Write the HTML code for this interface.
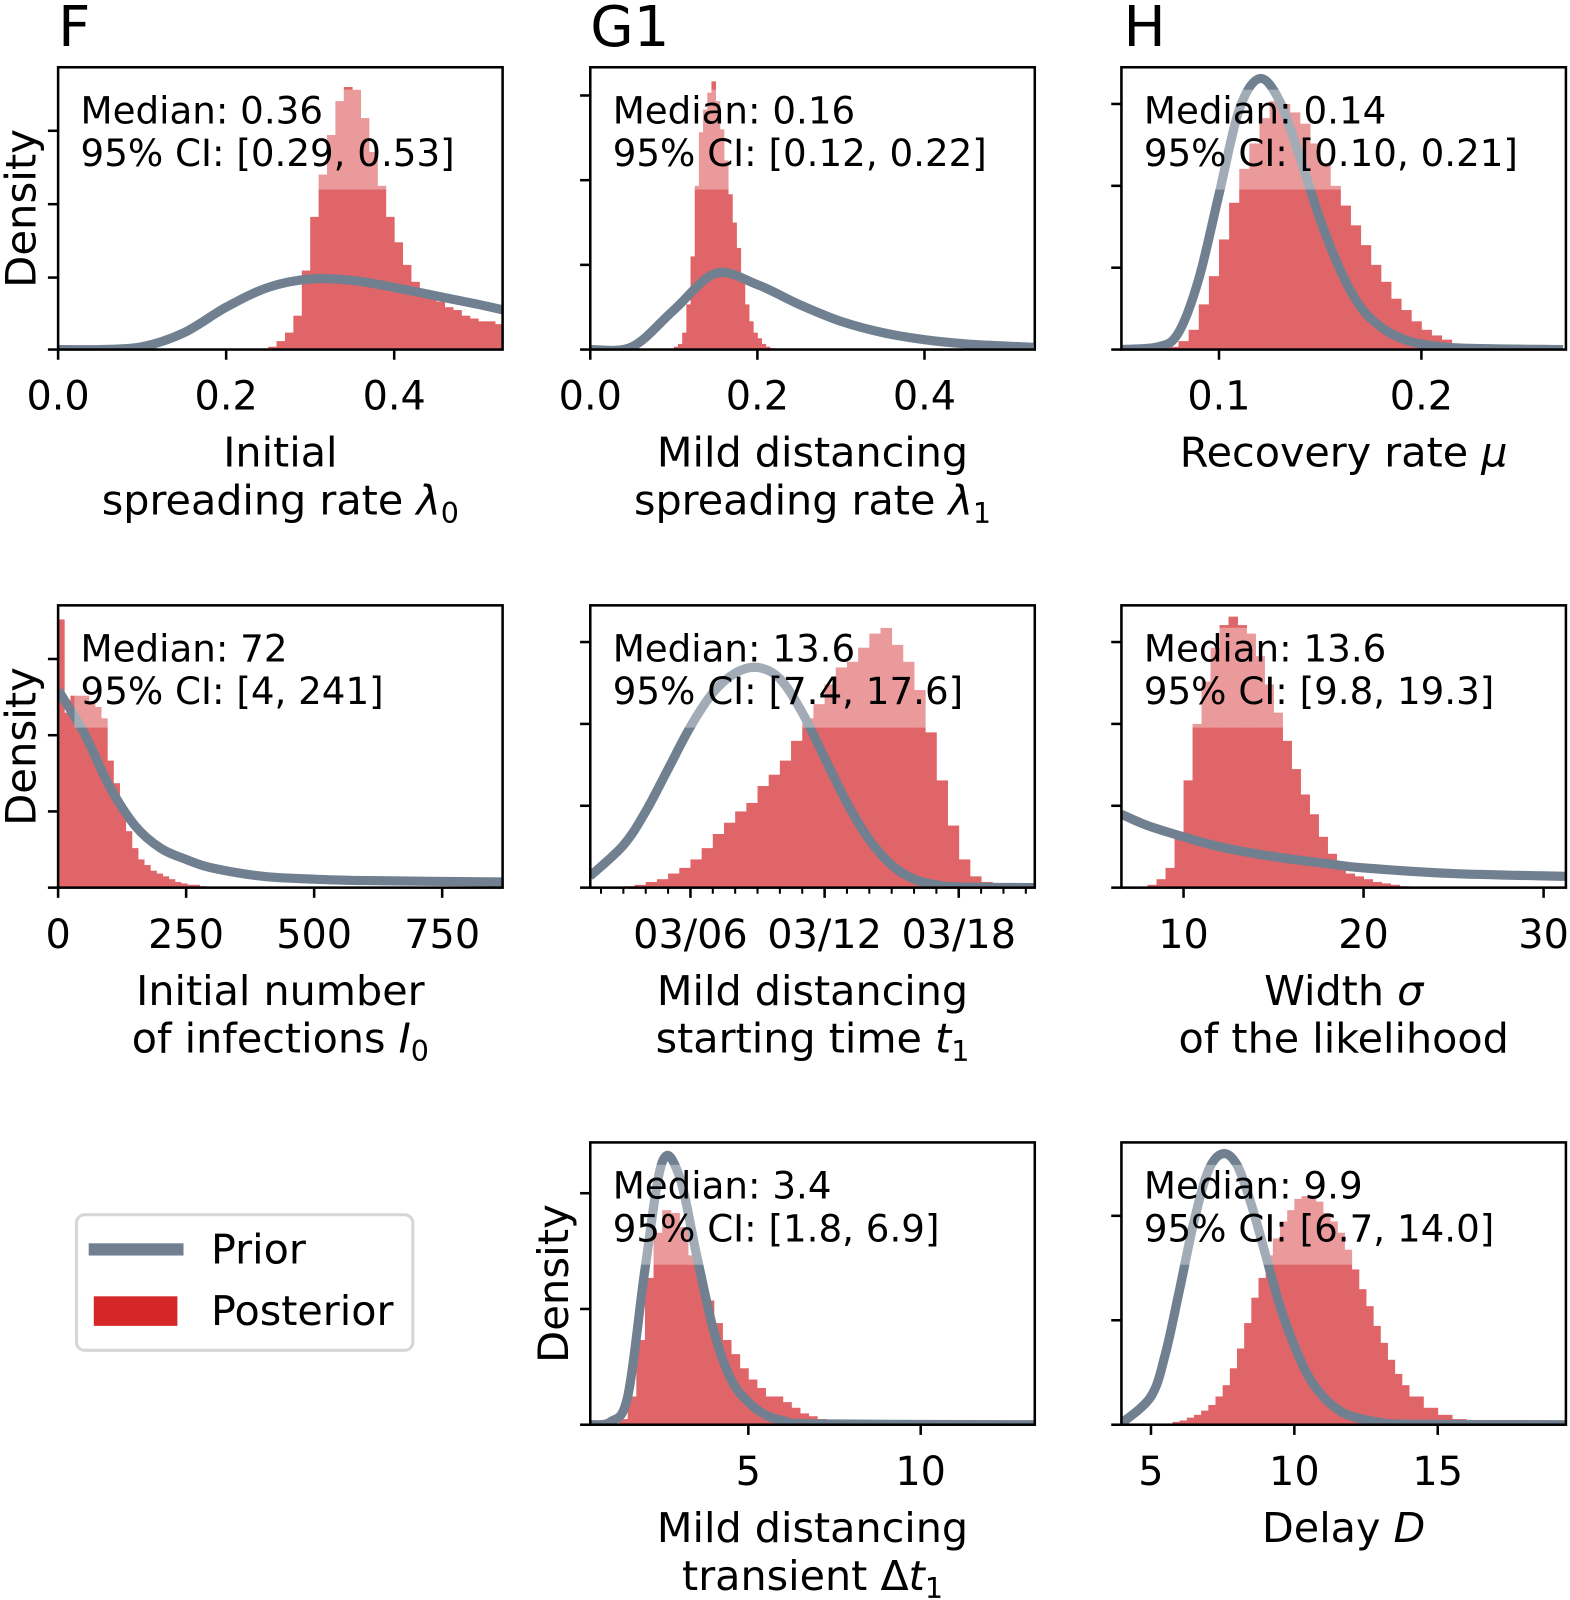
<!DOCTYPE html>
<html><head><meta charset="utf-8"><style>
html,body{margin:0;padding:0;background:#fff}
svg{display:block}
text{font-family:"DejaVu Sans","Liberation Sans",sans-serif;fill:#000}
</style></head><body>
<svg id="fig" width="1570" height="1600" viewBox="0 0 1540 1570" preserveAspectRatio="none" xmlns="http://www.w3.org/2000/svg"></svg>
<script>
// ---- data ----
const fBins=[0.25,0.26,0.27,0.28,0.29,0.30,0.31,0.32,0.33,0.34,0.35,0.36,0.37,0.38,0.39,0.40,0.41,0.42,0.43,0.44,0.45,0.46,0.47,0.48,0.49,0.50,0.51,0.52];
const fPost=[0.01,0.03,0.06,0.12,0.28,0.47,0.62,0.76,0.88,0.93,0.92,0.82,0.70,0.58,0.47,0.38,0.30,0.24,0.20,0.18,0.17,0.15,0.14,0.12,0.11,0.10,0.10,0.09];
const fPriorX=[0,0.05,0.1,0.15,0.2,0.25,0.3,0.35,0.4,0.45,0.5,0.53];
const fPriorY=[0,0,0.01,0.06,0.15,0.22,0.25,0.245,0.22,0.19,0.16,0.14];

const gBins=[0.10,0.105,0.11,0.115,0.12,0.125,0.13,0.135,0.14,0.145,0.15,0.155,0.16,0.165,0.17,0.175,0.18,0.185,0.19,0.195,0.2,0.205,0.21,0.215];
const gPost=[0.01,0.02,0.06,0.16,0.33,0.58,0.77,0.85,0.91,0.95,0.88,0.78,0.67,0.55,0.45,0.36,0.26,0.16,0.1,0.06,0.04,0.02,0.01,0.005];
const gPriorX=[0,0.05,0.1,0.15,0.2,0.25,0.3,0.35,0.4,0.45,0.5,0.53];
const gPriorY=[0,0.01,0.14,0.27,0.23,0.16,0.10,0.06,0.035,0.02,0.012,0.008];

const hBins=[0.075,0.08,0.085,0.09,0.095,0.1,0.105,0.11,0.115,0.12,0.125,0.13,0.135,0.14,0.145,0.15,0.155,0.16,0.165,0.17,0.175,0.18,0.185,0.19,0.195,0.2,0.205,0.21,0.215,0.22,0.225];
const hPost=[0.01,0.03,0.07,0.16,0.26,0.39,0.52,0.64,0.73,0.82,0.88,0.87,0.84,0.80,0.73,0.66,0.58,0.51,0.44,0.37,0.30,0.24,0.18,0.14,0.10,0.07,0.05,0.035,0.02,0.01,0.005];
const hPriorX=[0.05,0.07,0.08,0.09,0.1,0.11,0.12,0.13,0.14,0.15,0.16,0.17,0.18,0.19,0.2,0.22,0.27];
const hPriorY=[0,0.01,0.06,0.25,0.55,0.85,0.96,0.88,0.68,0.46,0.28,0.15,0.08,0.04,0.02,0.005,0];

const iBins=[0,12,24,36,48,60,72,84,96,108,120,132,144,156,168,180,192,204,216,228,240,252,264,276];
const iPost=[0.95,0.62,0.68,0.68,0.68,0.66,0.64,0.60,0.45,0.37,0.28,0.2,0.14,0.1,0.08,0.06,0.05,0.04,0.03,0.02,0.015,0.01,0.01,0.005];
const iPriorX=[0,50,100,150,200,250,300,400,500,600,868];
const iPriorY=[0.7,0.55,0.36,0.22,0.14,0.1,0.07,0.04,0.03,0.025,0.02];

const tBins=[3,3.5,4,4.5,5,5.5,6,6.5,7,7.5,8,8.5,9,9.5,10,10.5,11,11.5,12,12.5,13,13.5,14,14.5,15,15.5,16,16.5,17,17.5,18,18.5,19,19.5];
const tPost=[0.005,0.01,0.02,0.03,0.05,0.07,0.10,0.14,0.19,0.23,0.27,0.30,0.36,0.40,0.45,0.52,0.60,0.65,0.72,0.78,0.80,0.85,0.90,0.92,0.86,0.80,0.70,0.55,0.38,0.22,0.1,0.04,0.02,0.005];
const tPriorX=[1.5,3,4,5,6,7,8,9,10,11,12,13,14,15,16,17,18,21.4];
const tPriorY=[0.04,0.15,0.27,0.42,0.57,0.69,0.76,0.78,0.74,0.62,0.46,0.3,0.17,0.08,0.03,0.01,0.003,0];
const tTickLabels=["03/06","03/12","03/18"];

const sBins=[8,8.5,9,9.5,10,10.5,11,11.5,12,12.5,13,13.5,14,14.5,15,15.5,16,16.5,17,17.5,18,18.5,19,19.5,20,20.5,21,21.5,22];
const sPost=[0.01,0.03,0.07,0.18,0.38,0.58,0.73,0.85,0.93,0.96,0.93,0.9,0.82,0.72,0.62,0.52,0.42,0.33,0.26,0.18,0.12,0.08,0.05,0.04,0.03,0.02,0.015,0.01,0.005];
const sPriorX=[6.55,8,10,12,15,18,20,25,31.24];
const sPriorY=[0.26,0.22,0.18,0.145,0.11,0.085,0.07,0.05,0.04];

const dtBins=[1,1.25,1.5,1.75,2,2.25,2.5,2.75,3,3.25,3.5,3.75,4,4.25,4.5,4.75,5,5.25,5.5,5.75,6,6.25,6.5,6.75,7,7.25,7.5,7.75];
const dtPost=[0.005,0.02,0.1,0.3,0.52,0.68,0.76,0.75,0.7,0.6,0.52,0.44,0.36,0.3,0.25,0.2,0.16,0.13,0.1,0.1,0.08,0.06,0.04,0.03,0.02,0.012,0.008,0.005];
const dtPriorX=[0.41,1,1.5,2,2.5,3,3.5,4,4.5,5,5.5,6,7,13.3];
const dtPriorY=[0,0.01,0.1,0.55,0.93,0.88,0.6,0.33,0.16,0.08,0.035,0.015,0.003,0];

const dBins=[5.75,6,6.25,6.5,6.75,7,7.25,7.5,7.75,8,8.25,8.5,8.75,9,9.25,9.5,9.75,10,10.25,10.5,10.75,11,11.25,11.5,11.75,12,12.25,12.5,12.75,13,13.25,13.5,13.75,14,14.5,15,15.5,16];
const dPost=[0.01,0.015,0.025,0.035,0.05,0.07,0.1,0.14,0.2,0.27,0.36,0.45,0.52,0.6,0.66,0.72,0.76,0.8,0.81,0.8,0.79,0.75,0.72,0.68,0.62,0.55,0.48,0.42,0.35,0.29,0.23,0.18,0.14,0.1,0.06,0.035,0.02,0.01];
const dPriorX=[3.97,5,5.5,6,6.5,7,7.5,8,8.5,9,9.5,10,10.5,11,11.5,12,13,14,19.5];
const dPriorY=[0.005,0.1,0.25,0.48,0.72,0.9,0.96,0.92,0.78,0.6,0.42,0.28,0.17,0.1,0.055,0.03,0.008,0.002,0];

// ---- drawing ----
const NS="http://www.w3.org/2000/svg";
const svg=document.getElementById('fig');
function mk(tag,attrs,parent){const e=document.createElementNS(NS,tag);for(const k in attrs)e.setAttribute(k,attrs[k]);(parent||svg).appendChild(e);return e;}
const H=277;
function panel(o){
  const g=mk('g',{});
  
  
  const x0=o.x, x1=o.x+436, yb=o.y+H;
  const sx=v=>x0+(v-o.dom[0])/(o.dom[1]-o.dom[0])*436;
  const sy=v=>yb-v*H;
  const clip='c'+o.name;
  const cp=mk('clipPath',{id:clip},g); mk('rect',{x:x0,y:o.y,width:436,height:H},cp);
  const inner=mk('g',{'clip-path':'url(#'+clip+')'},g);
  for(let i=0;i<o.bins.length;i++){
    const w=(i<o.bins.length-1)?(o.bins[i+1]-o.bins[i]):o.bw;
    const a=sx(o.bins[i]), b=sx(o.bins[i]+Math.min(w,o.bw*2));
    const r=mk('rect',{x:a,y:sy(o.post[i]),width:Math.max(b-a+0.4,0.5),height:o.post[i]*H,fill:'#e06568'},inner);
    
    
  }
  const pts=o.px.map((v,i)=>[sx(v),sy(o.py[i])]);
  let d='M'+pts[0][0]+','+pts[0][1];
  for(let i=0;i<pts.length-1;i++){
    const p0=pts[Math.max(i-1,0)],p1=pts[i],p2=pts[i+1],p3=pts[Math.min(i+2,pts.length-1)];
    const c1=[p1[0]+(p2[0]-p0[0])/6,p1[1]+(p2[1]-p0[1])/6],c2=[p2[0]-(p3[0]-p1[0])/6,p2[1]-(p3[1]-p1[1])/6];
    d+=' C'+c1+' '+c2+' '+p2;
  }
  const pl=mk('path',{d:d,fill:'none',stroke:'#708090','stroke-width':9,'stroke-linejoin':'round'},inner);
  
  
  mk('rect',{x:x0+16,y:o.y+22,width:o.boxw,height:98,fill:'rgba(255,255,255,0.35)'},inner);
  const t1=mk('text',{x:x0+22,y:o.y+55,'font-size':36.5},g); t1.textContent='Median: '+o.med;
  
  
  const t2=mk('text',{x:x0+22,y:o.y+97,'font-size':36.5},g); t2.textContent='95% CI: '+o.ci;
  
  
  mk('rect',{x:x0,y:o.y,width:436,height:H,fill:'none',stroke:'#000','stroke-width':2.5},g);
  o.yt.forEach(v=>mk('line',{x1:x0-10,x2:x0,y1:sy(v),y2:sy(v),stroke:'#000','stroke-width':2.5},g));
  o.xt.forEach((v,i)=>{mk('line',{x1:sx(v),x2:sx(v),y1:yb,y2:yb+10,stroke:'#000','stroke-width':2.5},g);
    const tl=mk('text',{x:sx(v),y:yb+59,'font-size':39,'text-anchor':'middle'},g);tl.textContent=o.xl[i];
    
    });
  (o.minor||[]).forEach(v=>mk('line',{x1:sx(v),x2:sx(v),y1:yb,y2:yb+6,stroke:'#000','stroke-width':2},g));
  const lab=mk('text',{x:(x0+x1)/2,y:yb+115,'font-size':40.5,'text-anchor':'middle'},g);lab.innerHTML=o.l1;
  
  
  const lab2=mk('text',{x:(x0+x1)/2,y:yb+162,'font-size':40.5,'text-anchor':'middle'},g);lab2.innerHTML=o.l2;
  
  
  if(o.dens){const dt=mk('text',{x:0,y:0,'font-size':41,'text-anchor':'middle',transform:'translate('+(x0-22)+','+(o.y+H/2)+') rotate(-90)'},g);dt.textContent='Density';
    
    }
}
const sub=s=>'<tspan font-size="28" dy="8">'+s+'</tspan>';
const days=[];for(let d=2;d<=21;d++)days.push(d);
panel({name:'panel-lambda0',x:57,y:66,dom:[0,0.529],bins:fBins,bw:0.01,post:fPost,px:fPriorX,py:fPriorY,med:'0.36',ci:'[0.29, 0.53]',boxw:375,yt:[0,0.255,0.515,0.775],xt:[0,0.2,0.4],xl:['0.0','0.2','0.4'],l1:'Initial',l2:'spreading rate <tspan font-style="italic">λ</tspan>'+sub('0'),dens:true});
panel({name:'panel-lambda1',x:579,y:66,dom:[0,0.532],bins:gBins,bw:0.005,post:gPost,px:gPriorX,py:gPriorY,med:'0.16',ci:'[0.12, 0.22]',boxw:375,yt:[0,0.3,0.6,0.9],xt:[0,0.2,0.4],xl:['0.0','0.2','0.4'],l1:'Mild distancing',l2:'spreading rate <tspan font-style="italic">λ</tspan>'+sub('1')});
panel({name:'panel-mu',x:1100,y:66,dom:[0.0518,0.2714],bins:hBins,bw:0.005,post:hPost,px:hPriorX,py:hPriorY,med:'0.14',ci:'[0.10, 0.21]',boxw:375,yt:[0,0.29,0.58,0.87],xt:[0.1,0.2],xl:['0.1','0.2'],l1:'Recovery rate <tspan font-style="italic">μ</tspan>',l2:''});
panel({name:'panel-i0',x:57,y:594,dom:[0,868],bins:iBins,bw:12,post:iPost,px:iPriorX,py:iPriorY,med:'72',ci:'[4, 241]',boxw:310,yt:[0,0.27,0.54,0.81],xt:[0,250,500,750],xl:['0','250','500','750'],l1:'Initial number',l2:'of infections <tspan font-style="italic">I</tspan>'+sub('0'),dens:true});
panel({name:'panel-t1',x:579,y:594,dom:[1.52,21.4],bins:tBins,bw:0.5,post:tPost,px:tPriorX,py:tPriorY,med:'13.6',ci:'[7.4, 17.6]',boxw:355,yt:[0,0.29,0.58,0.87],xt:[6,12,18],xl:tTickLabels,minor:days,l1:'Mild distancing',l2:'starting time <tspan font-style="italic">t</tspan>'+sub('1')});
panel({name:'panel-sigma',x:1100,y:594,dom:[6.55,31.24],bins:sBins,bw:0.5,post:sPost,px:sPriorX,py:sPriorY,med:'13.6',ci:'[9.8, 19.3]',boxw:355,yt:[0,0.29,0.58,0.87],xt:[10,20,30],xl:['10','20','30'],l1:'Width <tspan font-style="italic">σ</tspan>',l2:'of the likelihood'});
panel({name:'panel-dt1',x:579,y:1121,dom:[0.414,13.31],bins:dtBins,bw:0.25,post:dtPost,px:dtPriorX,py:dtPriorY,med:'3.4',ci:'[1.8, 6.9]',boxw:335,yt:[0,0.41,0.82],xt:[5,10],xl:['5','10'],l1:'Mild distancing',l2:'transient Δ<tspan font-style="italic">t</tspan>'+sub('1'),dens:true});
panel({name:'panel-delay',x:1100,y:1121,dom:[3.97,19.47],bins:dBins,bw:0.25,post:dPost,px:dPriorX,py:dPriorY,med:'9.9',ci:'[6.7, 14.0]',boxw:355,yt:[0,0.37,0.74],xt:[5,10,15],xl:['5','10','15'],l1:'Delay <tspan font-style="italic">D</tspan>',l2:''});
</script>
<script>
(function(){
const NS="http://www.w3.org/2000/svg",svg=document.getElementById('fig');
function mk(tag,attrs){const e=document.createElementNS(NS,tag);for(const k in attrs)e.setAttribute(k,attrs[k]);svg.appendChild(e);return e;}
[['F',57],['G1',579],['H',1102]].forEach(p=>{const t=mk('text',{x:p[1],y:45,'font-size':55});t.textContent=p[0];

});
const lg=mk('rect',{x:75,y:1192,width:330,height:133,rx:8,fill:'#fff',stroke:'#d6d6d6','stroke-width':3});


mk('rect',{x:87,y:1220,width:93,height:12,fill:'#708090'});
mk('rect',{x:92,y:1272,width:82,height:29,fill:'#d62728'});
const a=mk('text',{x:207,y:1240,'font-size':40.5});a.textContent='Prior';


const b=mk('text',{x:207,y:1300,'font-size':40.5});b.textContent='Posterior';


})();
</script>
</body></html>
